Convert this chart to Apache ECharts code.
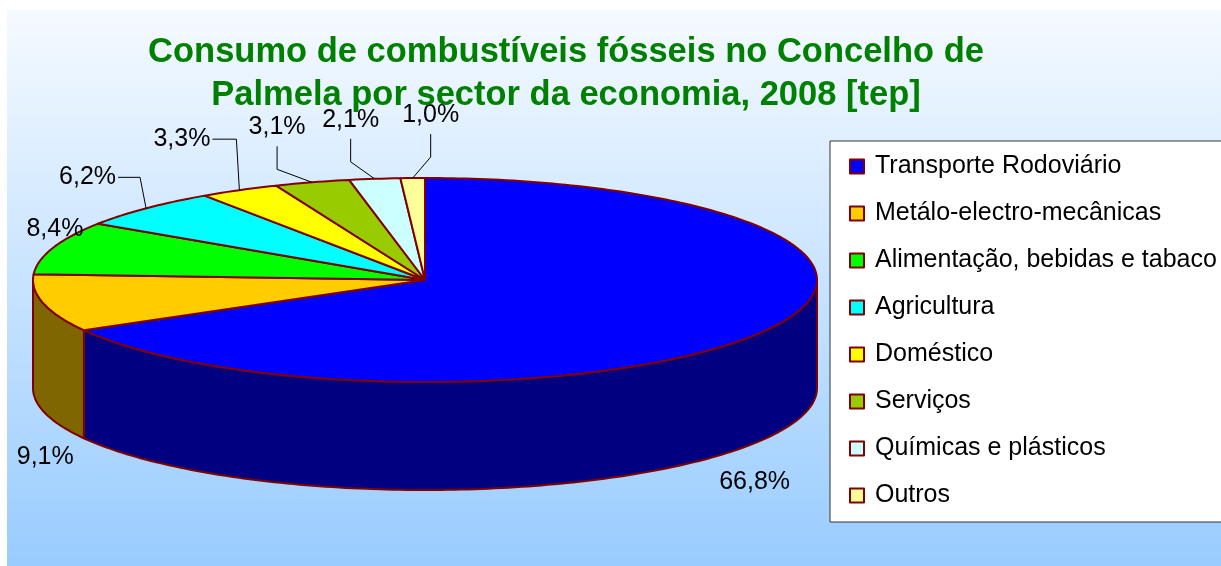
<!DOCTYPE html>
<html>
<head>
<meta charset="utf-8">
<script src="https://cdn.jsdelivr.net/npm/echarts@6/dist/echarts.min.js"></script>
<style>
  html, body { margin: 0; padding: 0; background: #fff; }
  #chart { width: 1221px; height: 566px; }
</style>
</head>
<body>
<div id="chart"></div>
<script>
// sectores e percentagens
const categories = [
  'Transporte Rodoviário',
  'Metálo-electro-mecânicas',
  'Alimentação, bebidas e tabaco',
  'Agricultura',
  'Doméstico',
  'Serviços',
  'Químicas e plásticos',
  'Outros'
];
const values = [66.8, 9.1, 8.4, 6.2, 3.3, 3.1, 2.1, 1.0];
const colors = ['#0000FF', '#FFCC00', '#00FF00', '#00FFFF', '#FFFF00', '#99CC00', '#CCFFFF', '#FFFF99'];

const FONT = '"Liberation Sans", Arial, sans-serif';
const EDGE = '#800000';
// elipse da "tarte" 3D
const CX = 425, CY = 280, RX = 392, RY = 102, DEPTH = 108;

// posição dos rótulos relativamente ao ponto médio da fatia
const labelLayout = [
  { base: 'bottom', text: [-9, 43], align: 'center' },
  { base: 'bottom', text: [2, 46], align: 'center' },
  { base: 'top', text: [2, -19], align: 'center' },
  { base: 'top', bend: [-6, -31], end: [-28, -31], text: [-30, -31], align: 'right' },
  { base: 'top', bend: [-3, -51], end: [-27, -51], text: [-29, -51], align: 'right' },
  { base: 'top', bend: [-35, -13], end: [-35, -36], text: [-35, -55], align: 'center' },
  { base: 'top', bend: [-24, -17], end: [-24, -40], text: [-24, -59], align: 'center' },
  { base: 'top', bend: [18, -21], end: [18, -44], text: [18, -63], align: 'center' }
];

const total = values.reduce((a, b) => a + b, 0);
const startAngles = [];
let acc = 0;
values.forEach(v => { startAngles.push(acc / total * 360); acc += v; });

function pt(deg, dy) {
  const r = deg * Math.PI / 180;
  return [CX + RX * Math.sin(r), CY - RY * Math.cos(r) + (dy || 0)];
}
function arc(a1, a2, dy) {
  const pts = [];
  const n = Math.max(2, Math.ceil(Math.abs(a2 - a1)));
  for (let i = 0; i <= n; i++) pts.push(pt(a1 + (a2 - a1) * i / n, dy));
  return pts;
}
function shade(hex, f) {
  const n = parseInt(hex.slice(1), 16);
  const r = Math.round(((n >> 16) & 255) * f);
  const g = Math.round(((n >> 8) & 255) * f);
  const b = Math.round((n & 255) * f);
  return 'rgb(' + r + ',' + g + ',' + b + ')';
}

function renderItem(params, api) {
  const i = params.dataIndex;
  const a1 = startAngles[i];
  const a2 = a1 + values[i] / total * 360;
  const children = [];
  // parede lateral (só a metade da frente é visível)
  const w1 = Math.max(a1, 90), w2 = Math.min(a2, 270);
  if (w2 > w1) {
    children.push({
      type: 'polygon',
      shape: { points: arc(w1, w2, 0).concat(arc(w2, w1, DEPTH)) },
      style: { fill: shade(colors[i], 0.5), stroke: EDGE, lineWidth: 2, lineJoin: 'round' }
    });
  }
  // face de cima
  children.push({
    type: 'polygon',
    shape: { points: [[CX, CY]].concat(arc(a1, a2, 0)) },
    style: { fill: colors[i], stroke: EDGE, lineWidth: 2, lineJoin: 'round' }
  });
  // rótulo
  const L = labelLayout[i];
  const mid = (a1 + a2) / 2;
  const an = pt(mid, L.base === 'bottom' ? DEPTH : 0);
  if (L.bend) {
    children.push({
      type: 'polyline',
      shape: { points: [an, [an[0] + L.bend[0], an[1] + L.bend[1]], [an[0] + L.end[0], an[1] + L.end[1]]] },
      style: { stroke: '#000', fill: null, lineWidth: 1 }
    });
  }
  children.push({
    type: 'text',
    x: an[0] + L.text[0],
    y: an[1] + L.text[1],
    style: {
      text: values[i].toFixed(1).replace('.', ',') + '%',
      fill: '#000',
      fontSize: 25,
      fontFamily: FONT,
      align: L.align,
      verticalAlign: 'middle'
    }
  });
  return { type: 'group', children: children };
}

const chart = echarts.init(document.getElementById('chart'));
chart.setOption({
  backgroundColor: '#fff',
  animation: false,
  graphic: [{
    type: 'rect',
    z: -10,
    shape: { x: 7, y: 10, width: 1214, height: 556 },
    style: {
      fill: new echarts.graphic.LinearGradient(0, 0, 0, 1, [
        { offset: 0, color: '#F5FAFF' },
        { offset: 1, color: '#99CCFF' }
      ])
    }
  }],
  title: {
    text: 'Consumo de combustíveis fósseis no Concelho de\nPalmela por sector da economia, 2008 [tep]',
    left: 561,
    top: 26,
    textAlign: 'center',
    textStyle: { fontSize: 34.5, fontWeight: 'bold', color: '#008000', fontFamily: FONT, lineHeight: 43 }
  },
  legend: {
    orient: 'vertical',
    left: 830,
    top: 141,
    padding: [13, 30, 14, 19],
    itemGap: 22,
    itemWidth: 14,
    itemHeight: 14,
    icon: 'rect',
    selectedMode: false,
    backgroundColor: '#fff',
    borderColor: '#333',
    borderWidth: 1,
    itemStyle: { borderColor: EDGE, borderWidth: 2 },
    textStyle: { fontSize: 25, fontFamily: FONT, color: '#000', lineHeight: 25, padding: [0, 0, 0, 6] },
    data: categories
  },
  series: [
    {
      // só para a legenda
      type: 'pie',
      radius: 0,
      silent: true,
      label: { show: false },
      labelLine: { show: false },
      data: categories.map((n, i) => ({ name: n, value: values[i], itemStyle: { color: colors[i] } }))
    },
    {
      type: 'custom',
      coordinateSystem: 'none',
      silent: true,
      renderItem: renderItem,
      data: values
    }
  ]
});
</script>
</body>
</html>
